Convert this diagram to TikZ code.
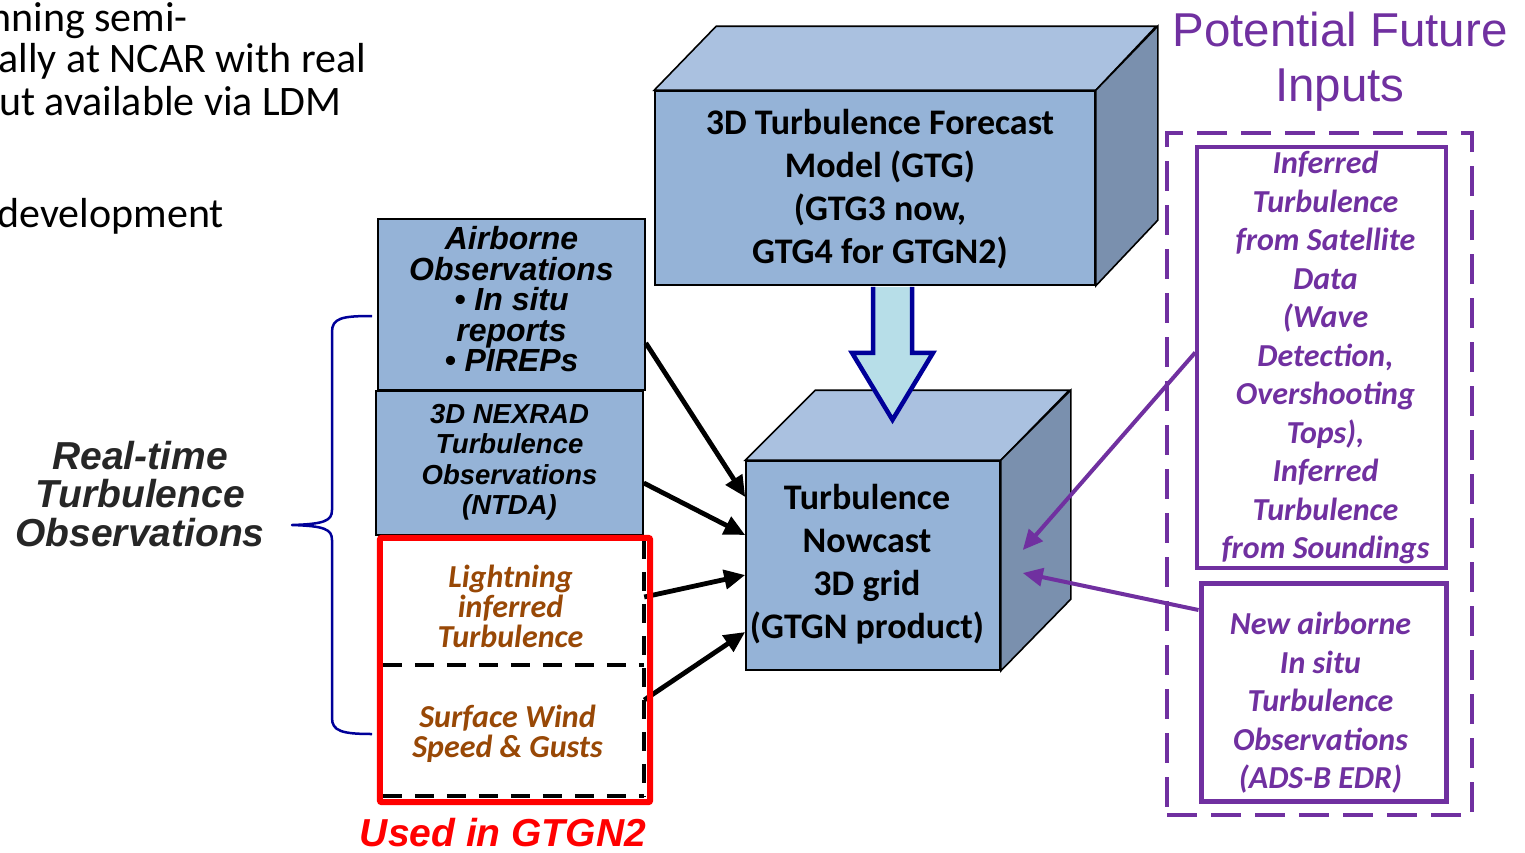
\documentclass[tikz,border=0pt]{standalone}
\usepackage{fontspec}
\setmainfont{Carlito}
\newfontfamily\arialf{Liberation Sans}
\usetikzlibrary{arrows.meta,calc}

\definecolor{boxfront}{RGB}{149,179,215}
\definecolor{boxtop}{RGB}{170,193,224}
\definecolor{boxside}{RGB}{122,144,174}
\definecolor{brownish}{RGB}{152,72,6}
\definecolor{futurepurple}{RGB}{112,48,160}
\definecolor{bracenavy}{RGB}{0,0,153}
\definecolor{arrowfill}{RGB}{183,222,232}
\definecolor{labelgrey}{RGB}{38,38,38}

\begin{document}
\begin{tikzpicture}[x=1pt,y=-1pt,
  cubeedge/.style={draw=black, line width=1.6pt},
  cubefront/.style={cubeedge, fill=boxfront, inner sep=0pt, align=center},
  bigfont/.style={font=\bfseries\fontsize{36}{43}\selectfont},
  usedtext/.style={inner sep=0pt, align=center, text=brownish,
    font=\bfseries\itshape\fontsize{32}{30}\selectfont},
  dashline/.style={draw=black, line width=4.5pt, dash pattern=on 19pt off 13pt},
  usedframe/.style={draw=red, line width=6pt, rounded corners=2pt},
  feed/.style={draw=black, line width=4.8pt, -{Triangle[length=21pt,width=19pt]}},
  pfbox/.style={draw=futurepurple, inner sep=0pt},
  pftext/.style={align=center, text=futurepurple, inner sep=0pt,
    font=\bfseries\itshape\fontsize{32}{38.5}\selectfont},
  pfarrow/.style={draw=futurepurple, line width=4pt, -{Triangle[length=20pt,width=18pt]}},
  slidetext/.style={anchor=base east, inner sep=0pt, font=\fontsize{42}{42}\selectfont}
]
\useasboundingbox (0,0) rectangle (1525,852);
\clip (0,0) rectangle (1525,852);

% bullet text running in from the left
\node[slidetext] (s1) at (188,31) {nning semi-};
\node[slidetext] (s2) at (366,72) {ally at NCAR with real};
\node[slidetext] (s3) at (342,115) {ut available via LDM};
\node[slidetext] (s4) at (224,227) {development};

% brace grouping the observation inputs
\draw[bracenavy, line width=2.5pt, line join=round]
  (372,316) .. controls (342,316) and (332,318) .. (332,332)
  -- (332,510) .. controls (332,521) and (324,524) .. (292,525)
  .. controls (324,526) and (332,529) .. (332,540)
  -- (332,718) .. controls (332,731) and (342,734) .. (372,734);
\node[align=center, inner sep=0pt, text=labelgrey,
  font=\arialf\bfseries\itshape\fontsize{39}{38.5}\selectfont] (rt) at (140,494)
  {Real-time\\Turbulence\\Observations};

% observation boxes
\node[cubefront, minimum width=267pt, minimum height=171pt,
  label={[name=airtext, align=center, inner sep=0pt, yshift=5pt,
    font=\arialf\bfseries\itshape\fontsize{32}{30.5}\selectfont]center:
    Airborne\\Observations\\\textbullet\ In situ\\reports\\\textbullet\ PIREPs}]
  (air) at (511.5,304.5) {};
\node[cubefront, minimum width=267pt, minimum height=144pt,
  label={[name=nextext, align=center, inner sep=0pt, yshift=1pt,
    font=\arialf\bfseries\itshape\fontsize{27.5}{30.5}\selectfont]center:
    3D NEXRAD\\Turbulence\\Observations\\(NTDA)}]
  (nex) at (509.5,463) {};

\node[minimum width=261pt, minimum height=125pt, inner sep=0pt,
  label={[name=ligtext, usedtext, xshift=-3pt, yshift=-4pt]center:
    Lightning\\inferred\\Turbulence}]
  (lig) at (513.5,602.5) {};
\node[minimum width=261pt, minimum height=131pt, inner sep=0pt,
  label={[name=surftext, usedtext, xshift=-6pt, yshift=-3pt]center:
    Surface Wind\\Speed \& Gusts}]
  (surf) at (513.5,730.5) {};

% feeds into the nowcast
\node[cubefront, minimum width=254pt, minimum height=209pt,
  label={[name=nowtext, bigfont, align=center, inner sep=0pt, xshift=-6pt, yshift=1pt]center:
    Turbulence\\Nowcast\\3D grid\\(GTGN product)}]
  (now) at (873,565.5) {};
\draw[feed] ([yshift=-38.5pt]air.east) -- ([yshift=68.5pt]now.west);
\draw[feed] ([yshift=-20pt]nex.east) -- ([yshift=30.5pt]now.west);
\draw[feed] ([yshift=5.5pt]lig.east) -- ([yshift=-9.5pt]now.west);
\draw[feed] ([yshift=30.5pt]surf.east) -- ([yshift=-66.5pt]now.west);

% dashed split of the new inputs and the red frame around them
\draw[dashline] (lig.south west) -- (lig.south east);
\draw[dashline] (lig.north east) -- (surf.south east);
\draw[dashline] (surf.south west) -- (surf.south east);
\draw[usedframe] ($(lig.north west)+(-3,-2)$) rectangle ($(surf.south east)+(6,6)$);
\node[text=red, inner sep=0pt, font=\arialf\bfseries\itshape\fontsize{39}{39}\selectfont]
  (used) at (503,833) {Used in GTGN2};

% nowcast cube faces
\draw[cubeedge, fill=boxtop] (now.north west) -- ++(70,-70) -- ++(254,0) -- (now.north east) -- cycle;
\draw[cubeedge, fill=boxside] (now.north east) -- ++(70,-70) -- ++(0,209) -- (now.south east) -- cycle;

% forecast model cube
\node[cubefront, minimum width=440pt, minimum height=194pt,
  label={[name=gtgtext, bigfont, align=center, inner sep=0pt, xshift=5pt, yshift=-1pt]center:
    3D Turbulence Forecast\\Model (GTG)\\(GTG3 now,\\GTG4 for GTGN2)}]
  (gtg) at (875,188) {};
\draw[cubeedge, fill=boxtop] (gtg.north west) -- ++(62,-64) -- ++(440,0) -- (gtg.north east) -- cycle;
\draw[cubeedge, fill=boxside] (gtg.north east) -- ++(62,-64) -- ++(0,194) -- (gtg.south east) -- cycle;

% block arrow from forecast to nowcast
\coordinate (bigtop) at ([xshift=17.5pt,yshift=-1pt]gtg.south);
\draw[draw=bracenavy, fill=arrowfill, line width=4.5pt, line join=miter]
  ($(bigtop)+(-19.5,0)$) -- ++(0,66) -- ++(-21,0) -- ($(bigtop)+(0,133)$)
  -- ($(bigtop)+(40.5,66)$) -- ++(-21,0) -- ($(bigtop)+(19.5,0)$);

% potential future inputs
\node[text=futurepurple, align=center, inner sep=0pt,
  font=\arialf\fontsize{47.5}{55}\selectfont] (pfi) at (1340,62)
  {Potential Future\\Inputs};
\node[draw=futurepurple, line width=4pt, dash pattern=on 30pt off 14pt,
  minimum width=305pt, minimum height=682pt, inner sep=0pt] (fut) at (1319.5,474) {};
\node[pfbox, line width=3.5pt, minimum width=249pt, minimum height=421pt,
  label={[name=pf1text, pftext, xshift=4pt]center:
    Inferred\\Turbulence\\from Satellite\\Data\\(Wave\\Detection,\\Overshooting\\Tops),\\Inferred\\Turbulence\\from Soundings}]
  (pf1) at (1321.5,357.5) {};
\node[pfbox, line width=5pt, minimum width=245pt, minimum height=218pt,
  label={[name=pf2text, pftext, xshift=-3pt, yshift=-11pt]center:
    New airborne\\In situ\\Turbulence\\Observations\\(ADS-B EDR)}]
  (pf2) at (1323.5,692) {};
\draw[pfarrow] ([yshift=5pt]pf1.west) -- ([xshift=22pt,yshift=15.5pt]now.east);
\draw[pfarrow] ([yshift=82pt]pf2.west) -- ([xshift=22pt,yshift=-7.5pt]now.east);
\end{tikzpicture}
\end{document}
